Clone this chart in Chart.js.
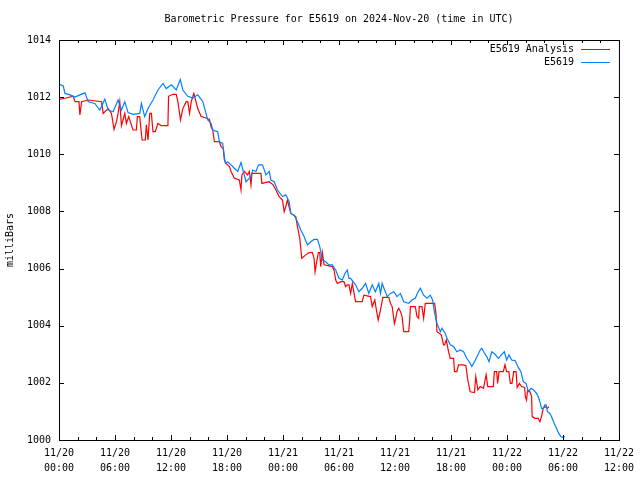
<!DOCTYPE html>
<html>
<head>
<meta charset="utf-8">
<script src="https://cdn.jsdelivr.net/npm/chart.js@4"></script>
<style>
    html, body { margin: 0; padding: 0; background: #fff; }
    canvas { display: block; }
</style>
</head>
<body>
<canvas id="chart" width="640" height="480"></canvas>
<script>
// hours since 2024-11-20 00:00 UTC
const xTickLabels = [
    ['11/20', '00:00'], ['11/20', '06:00'], ['11/20', '12:00'], ['11/20', '18:00'],
    ['11/21', '00:00'], ['11/21', '06:00'], ['11/21', '12:00'], ['11/21', '18:00'],
    ['11/22', '00:00'], ['11/22', '06:00'], ['11/22', '12:00']
]
const yTicks = [1000, 1002, 1004, 1006, 1008, 1010, 1012, 1014]

const stationHours = [
    0.0, 0.46, 0.64, 1.17, 1.71, 2.24, 2.78, 3.13, 3.84, 4.38, 4.91, 5.27, 5.8, 6.33, 6.69, 7.05,
    7.4, 7.93, 8.65, 8.83, 9.18, 9.54, 10.07, 10.6, 11.14, 11.5, 12.03, 12.56, 12.99, 13.27, 13.8,
    14.34, 14.87, 15.41, 15.94, 16.3, 16.47, 17.0, 17.19, 17.54, 17.72, 17.83, 18.07, 18.44, 18.79,
    19.15, 19.5, 20.04, 20.57, 20.75, 21.1, 21.39, 21.81, 22.17, 22.53, 22.7, 23.06, 23.41, 23.95,
    24.3, 24.66, 24.84, 25.2, 25.55, 25.91, 26.26, 26.62, 26.98, 27.33, 27.69, 27.94, 28.22, 28.58,
    28.93, 29.29, 29.65, 30.0, 30.35, 30.64, 30.89, 31.07, 31.25, 31.78, 32.13, 32.49, 32.85, 33.2,
    33.56, 33.9, 34.27, 34.45, 34.62, 35.16, 35.52, 35.87, 36.22, 36.58, 36.94, 37.47, 37.82, 38.18,
    38.47, 38.72, 39.07, 39.43, 39.79, 40.03, 40.25, 40.5, 40.86, 41.03, 41.39, 41.57, 41.93, 42.28,
    42.63, 42.99, 43.35, 43.7, 43.96, 44.23, 44.52, 44.8, 45.13, 45.3, 45.5, 45.83, 46.08, 46.37,
    46.72, 47.08, 47.4, 47.72, 47.97, 48.22, 48.5, 48.86, 49.22, 49.5, 49.75, 50.05, 50.28, 50.6,
    50.85, 51.17, 51.35, 51.53, 51.7, 51.9, 52.06, 52.2, 52.34, 52.6, 52.77, 53.06, 53.31, 53.55,
    53.77, 54.02, 54.2
]
const stationPressure = [
    1012.46, 1012.39, 1012.13, 1012.08, 1012.0, 1012.08, 1012.15, 1011.84, 1011.78, 1011.55, 1011.93,
    1011.55, 1011.49, 1011.9, 1011.55, 1011.84, 1011.46, 1011.4, 1011.43, 1011.78, 1011.32, 1011.6,
    1011.9, 1012.25, 1012.48, 1012.3, 1012.43, 1012.25, 1012.62, 1012.25, 1012.03, 1011.97, 1012.08,
    1011.84, 1011.2, 1011.08, 1010.85, 1010.79, 1010.44, 1010.38, 1009.92, 1009.68, 1009.74, 1009.63,
    1009.51, 1009.4, 1009.71, 1009.04, 1009.22, 1009.45, 1009.4, 1009.63, 1009.63, 1009.28, 1009.4,
    1009.1, 1009.04, 1008.75, 1008.52, 1008.58, 1008.34, 1007.93, 1007.87, 1007.64, 1007.35, 1007.12,
    1006.83, 1006.94, 1007.02, 1007.02, 1006.77, 1006.3, 1006.24, 1006.13, 1006.13, 1005.95, 1005.66,
    1005.6, 1005.83, 1005.95, 1005.66, 1005.66, 1005.43, 1005.19, 1005.31, 1005.48, 1005.13, 1005.43,
    1005.19, 1005.48, 1005.13, 1005.48, 1005.02, 1005.13, 1005.19, 1005.02, 1005.13, 1004.84, 1004.78,
    1004.9, 1004.96, 1005.19, 1005.31, 1005.07, 1004.96, 1005.07, 1004.9, 1004.43, 1004.08, 1003.79,
    1003.91, 1003.73, 1003.56, 1003.33, 1003.27, 1003.09, 1003.15, 1003.09, 1002.86, 1002.74, 1002.57,
    1002.74, 1002.92, 1003.15, 1003.21, 1003.09, 1002.92, 1002.74, 1003.09, 1003.0, 1002.86, 1002.98,
    1003.09, 1002.8, 1002.98, 1002.8, 1002.78, 1002.54, 1002.39, 1002.04, 1001.98, 1001.69, 1001.81,
    1001.75, 1001.63, 1001.52, 1001.34, 1001.11, 1001.11, 1001.23, 1001.23, 1000.99, 1000.93, 1000.82,
    1000.58, 1000.41, 1000.23, 1000.12, 1000.09, 1000.12
]

const analysisHours = [
    0.0, 0.64, 1.53, 1.71, 2.14, 2.24, 2.42, 3.13, 4.56, 4.73, 5.27, 5.62, 5.9, 6.16, 6.33, 6.51,
    6.69, 7.05, 7.22, 7.47, 7.93, 8.29, 8.4, 8.65, 8.9, 9.25, 9.36, 9.54, 9.72, 9.9, 10.07, 10.32,
    10.6, 10.96, 11.67, 11.74, 12.2, 12.56, 12.74, 13.02, 13.27, 13.63, 13.8, 13.99, 14.17, 14.45,
    14.87, 15.23, 15.77, 16.12, 16.3, 16.47, 16.65, 17.19, 17.37, 17.6, 17.72, 17.9, 18.26, 18.44,
    18.79, 19.32, 19.5, 19.6, 19.86, 20.2, 20.4, 20.57, 20.68, 21.64, 21.74, 22.53, 22.95, 23.24,
    23.59, 23.95, 24.13, 24.3, 24.48, 24.7, 24.84, 25.37, 25.55, 25.8, 26.01, 26.44, 26.8, 27.15,
    27.33, 27.44, 27.58, 27.79, 27.94, 28.04, 28.22, 28.4, 29.29, 29.47, 29.65, 29.82, 30.2, 30.53,
    30.71, 30.89, 31.07, 31.25, 31.43, 31.71, 31.78, 32.49, 32.67, 33.38, 33.56, 33.84, 33.98, 34.2,
    34.45, 34.7, 35.34, 35.52, 35.7, 35.94, 36.04, 36.22, 36.4, 36.58, 36.76, 36.94, 37.47, 37.58,
    37.65, 38.18, 38.36, 38.54, 38.6, 38.89, 39.07, 39.25, 39.96, 40.25, 40.39, 40.5, 40.96, 41.21,
    41.31, 41.5, 41.74, 41.93, 42.28, 42.38, 42.63, 42.81, 43.35, 43.6, 43.8, 44.06, 44.52, 44.66,
    44.88, 45.13, 45.48, 45.77, 45.94, 46.54, 46.65, 46.9, 47.0, 47.15, 47.61, 47.79, 47.97, 48.2,
    48.36, 48.54, 48.72, 48.98, 49.09, 49.34, 49.57, 49.9, 49.97, 50.1, 50.21, 50.46, 50.64, 50.7,
    50.99, 51.35, 51.53, 51.7, 51.88, 52.06, 52.34, 52.5
]
const analysisPressure = [
    1011.92, 1011.96, 1012.03, 1011.84, 1011.84, 1011.38, 1011.84, 1011.9, 1011.84, 1011.43, 1011.6,
    1011.43, 1010.87, 1011.14, 1011.43, 1011.84, 1011.0, 1011.43, 1011.08, 1011.32, 1010.85, 1010.85,
    1011.32, 1011.32, 1010.5, 1010.5, 1011.03, 1010.5, 1011.43, 1011.43, 1010.79, 1010.79, 1011.08,
    1011.0, 1011.0, 1012.03, 1012.1, 1012.1, 1011.84, 1011.2, 1011.6, 1011.84, 1011.84, 1011.43,
    1011.84, 1012.13, 1011.6, 1011.32, 1011.27, 1011.22, 1010.95, 1010.85, 1010.44, 1010.44, 1010.27,
    1010.2, 1009.8, 1009.68, 1009.57, 1009.4, 1009.16, 1009.1, 1008.75, 1009.28, 1009.4, 1009.28,
    1009.4, 1008.93, 1009.33, 1009.33, 1008.98, 1009.04, 1008.93, 1008.75, 1008.52, 1008.4, 1007.99,
    1008.17, 1008.4, 1008.1, 1007.93, 1007.82, 1007.47, 1007.06, 1006.36, 1006.48, 1006.56, 1006.56,
    1006.36, 1005.89, 1006.18, 1006.56, 1006.56, 1006.07, 1006.56, 1006.13, 1006.07, 1005.95, 1005.6,
    1005.48, 1005.54, 1005.54, 1005.37, 1005.43, 1005.43, 1005.13, 1005.48, 1004.96, 1004.84, 1004.84,
    1005.07, 1005.02, 1004.67, 1004.9, 1004.61, 1004.2, 1004.55, 1004.99, 1004.99, 1004.78, 1004.67,
    1004.08, 1004.2, 1004.49, 1004.61, 1004.5, 1004.32, 1003.79, 1003.79, 1004.2, 1004.67, 1004.67,
    1004.32, 1004.26, 1004.67, 1004.67, 1004.26, 1004.78, 1004.78, 1004.78, 1004.43, 1003.79, 1003.68,
    1003.33, 1003.33, 1003.5, 1003.09, 1002.86, 1002.86, 1002.39, 1002.39, 1002.63, 1002.63, 1002.6,
    1002.1, 1001.69, 1001.66, 1002.22, 1001.75, 1001.87, 1001.81, 1002.28, 1001.87, 1001.87, 1002.39,
    1002.39, 1001.98, 1002.39, 1002.39, 1002.63, 1002.39, 1002.39, 1001.98, 1001.98, 1002.39, 1002.39,
    1001.84, 1001.98, 1001.87, 1001.84, 1001.52, 1001.4, 1001.75, 1001.69, 1001.52, 1000.82, 1000.76,
    1000.76, 1000.64, 1000.82, 1001.11, 1001.17, 1001.11, 1001.17
]

const font = "'DejaVu Sans Mono', monospace"

// gnuplot style frame, inward ticks, title, y label and legend
const gnuplotFrame = {
    id: 'gnuplotFrame',
    afterDraw(chart) {
        const ctx = chart.ctx
        const area = chart.chartArea
        const xs = chart.scales.x
        const ys = chart.scales.y
        ctx.save()
        ctx.strokeStyle = '#000'
        ctx.lineWidth = 1
        ctx.beginPath()
        for (let h = 0; h <= 60; h += 2) {
            const px = Math.round(xs.getPixelForValue(h)) + 0.5
            const len = h % 6 === 0 ? 5 : 3
            ctx.moveTo(px, area.bottom); ctx.lineTo(px, area.bottom - len)
            ctx.moveTo(px, area.top); ctx.lineTo(px, area.top + len)
        }
        yTicks.forEach(v => {
            const py = Math.round(ys.getPixelForValue(v)) + 0.5
            ctx.moveTo(area.left, py); ctx.lineTo(area.left + 5, py)
            ctx.moveTo(area.right, py); ctx.lineTo(area.right - 5, py)
        })
        ctx.stroke()
        ctx.strokeRect(area.left + 0.5, area.top + 0.5, area.right - area.left, area.bottom - area.top)

        ctx.fillStyle = '#000'
        ctx.font = '10px ' + font
        ctx.textAlign = 'center'
        ctx.textBaseline = 'middle'
        ctx.fillText('Barometric Pressure for E5619 on 2024-Nov-20 (time in UTC)', (area.left + area.right) / 2, 19)

        ctx.save()
        ctx.translate(10, 240)
        ctx.rotate(-Math.PI / 2)
        ctx.fillText('milliBars', 0, 0)
        ctx.restore()

        const entries = [['E5619 Analysis', '#ff0000', 49], ['E5619', '#0080ff', 62]]
        ctx.textAlign = 'right'
        entries.forEach(([label, color, y]) => {
            ctx.fillStyle = '#000'
            ctx.fillText(label, 574, y)
            ctx.strokeStyle = color
            ctx.beginPath()
            ctx.moveTo(581, y + 0.5)
            ctx.lineTo(610, y + 0.5)
            ctx.stroke()
        })
        ctx.restore()
    }
}

new Chart(document.getElementById('chart'), {
    type: 'line',
    data: {
        datasets: [
            {
                label: 'E5619 Analysis',
                data: analysisHours.map((h, i) => ({ x: h, y: analysisPressure[i] })),
                borderColor: '#ff0000',
                borderWidth: 1.2,
                pointRadius: 0,
                tension: 0,
                order: 2,
            },
            {
                label: 'E5619',
                data: stationHours.map((h, i) => ({ x: h, y: stationPressure[i] })),
                borderColor: '#0080ff',
                borderWidth: 1.2,
                pointRadius: 0,
                tension: 0,
                order: 1,
            }
        ]
    },
    options: {
        responsive: false,
        animation: false,
        layout: { padding: { top: 40, right: 19, left: 0, bottom: 0 } },
        plugins: {
            legend: { display: false },
            tooltip: { enabled: false },
        },
        scales: {
            x: {
                type: 'linear',
                min: 0,
                max: 60,
                grid: { display: false, drawTicks: false },
                border: { display: false },
                afterFit: (scale) => { scale.height = 40 },
                afterBuildTicks: (scale) => {
                    scale.ticks = xTickLabels.map((_, i) => ({ value: i * 6 }))
                },
                ticks: {
                    autoSkip: false,
                    maxRotation: 0,
                    padding: 6,
                    color: '#000',
                    font: { family: font, size: 10, lineHeight: 1.5 },
                    callback: (value) => xTickLabels[Math.round(value / 6)],
                }
            },
            y: {
                min: 1000,
                max: 1014,
                grid: { display: false, drawTicks: false },
                border: { display: false },
                afterFit: (scale) => { scale.width = 59 },
                afterBuildTicks: (scale) => {
                    scale.ticks = yTicks.map(v => ({ value: v }))
                },
                ticks: {
                    padding: 8,
                    color: '#000',
                    font: { family: font, size: 10 },
                    callback: (value) => String(value),
                }
            }
        }
    },
    plugins: [gnuplotFrame]
})
</script>
</body>
</html>
